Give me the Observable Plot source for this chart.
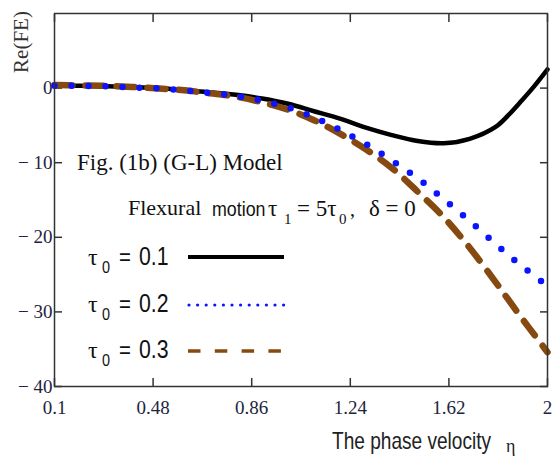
<!DOCTYPE html>
<html><head><meta charset="utf-8">
<script src="https://cdn.jsdelivr.net/npm/d3@7"></script>
<script src="https://cdn.jsdelivr.net/npm/@observablehq/plot@0.6"></script>
<style>
body{margin:0;background:#fff;}
#chart{width:553px;height:459px;}
</style></head><body><div id="chart"></div>
<script>
const eta   = [0.1,0.2,0.3,0.4,0.5,0.6,0.7,0.8,0.9,1.0,1.1,1.2,1.3,1.4,1.5,1.6,1.7,1.8,1.85,1.9,1.95,2.0];
const re01  = [0.3,0.3,0.25,0.15,0.0,-0.3,-0.55,-0.9,-1.4,-2.1,-3.1,-4.1,-5.3,-6.3,-7.1,-7.4,-6.8,-5.2,-3.6,-1.7,0.3,2.5];
const re02  = [0.3,0.3,0.25,0.1,-0.05,-0.3,-0.65,-1.05,-1.7,-2.6,-3.9,-5.6,-7.5,-9.7,-12.1,-14.9,-17.8,-20.9,-22.4,-23.8,-25.2,-26.5];
const re03  = [0.4,0.35,0.3,0.15,-0.05,-0.3,-0.7,-1.15,-1.9,-2.9,-4.3,-6.1,-8.2,-10.7,-13.9,-17.3,-21.4,-26.0,-28.4,-30.8,-33.1,-35.4];
const xTicks = [0.1,0.48,0.86,1.24,1.62,2];
const yTicks = [0,-10,-20,-30,-40];
const tauValues = ["0.1","0.2","0.3"];
const seriesColors = ["#000000","#0a14ff","#86490f"];

const rows = s => eta.map((x,i)=>({x, y:s[i]}));
const serif = "'Liberation Serif','Times New Roman',serif";
const sans = "'Liberation Sans',Arial,sans-serif";
const tickCol = "#1e2440";

const plot = Plot.plot({
  width:553, height:459,
  marginLeft:54, marginRight:6, marginTop:13, marginBottom:73,
  x:{domain:[0.1,2]}, y:{domain:[-40,10]},
  style:{fontFamily:serif, background:"white"},
  marks:[
    Plot.axisX(xTicks,{anchor:"bottom", tickSize:0, tickPadding:14, fontSize:19, label:null, fill:tickCol,
      tickFormat:d=>String(d)}),
    Plot.axisY(yTicks,{anchor:"left", tickSize:0, tickPadding:2, fontSize:19, label:null, fill:tickCol,
      tickFormat:d=> d<0 ? "\u2212 "+Math.abs(d) : String(d)}),
    Plot.axisX(xTicks,{anchor:"bottom", tickSize:8, dy:-8, fill:"none", label:null, stroke:"#333", strokeWidth:1.5}),
    Plot.axisX(xTicks,{anchor:"top", tickSize:8, dy:8, fill:"none", label:null, stroke:"#333", strokeWidth:1.5}),
    Plot.axisY(yTicks,{anchor:"left", tickSize:8, dx:8, fill:"none", label:null, stroke:"#333", strokeWidth:1.5}),
    Plot.axisY(yTicks,{anchor:"right", tickSize:8, dx:-8, fill:"none", label:null, stroke:"#333", strokeWidth:1.5}),
    Plot.line(rows(re01),{x:"x", y:"y", stroke:seriesColors[0], strokeWidth:4.5, curve:"catmull-rom"}),
    Plot.line(rows(re03),{x:"x", y:"y", stroke:seriesColors[2], strokeWidth:6.5, strokeDasharray:"18 13", curve:"catmull-rom"}),
    Plot.line(rows(re02),{x:"x", y:"y", stroke:seriesColors[1], strokeWidth:6.5, strokeDasharray:"0 17", strokeLinecap:"round", curve:"catmull-rom"}),
    Plot.frame({stroke:"#333", strokeWidth:1.5})
  ]
});
document.getElementById("chart").appendChild(plot);

const svg = d3.select(plot);
const g = svg.append("g").attr("fill","#111").attr("text-anchor","start");

const t2 = (x,y,size,txt,fam)=>g.append("text").attr("x",x).attr("y",y).attr("font-family",fam||serif).attr("font-size",size).text(txt);
const tn = (x,y,size,txt,sx)=>g.append("text").attr("transform",`translate(${x},${y}) scale(${sx||0.8},1)`)
  .attr("font-family",sans).attr("font-size",size).text(txt);

// y label
g.append("text").attr("transform","translate(28,42) rotate(-90)").attr("text-anchor","middle")
  .attr("font-family",serif).attr("font-size",21).attr("fill","#333").text("Re(FE)");
// x label
tn(332,449,23,"The phase velocity",0.83).attr("fill","#222");
t2(506,452,18,"\u03b7").attr("fill","#222");

// titles
t2(77,170,23,"Fig. (1b) (G-L) Model");
t2(128,215,22,"Flexural");
tn(212,216,21,"motion",0.85);
t2(268,216,23,"\u03c4");
t2(284,224,15,"1");
t2(297,216,23,"= 5\u03c4");
t2(339,224,15,"0");
t2(350,216,20,",");
t2(369,216,23,"\u03b4 = 0");

// legend
const legY = [265,312,358];
const lineY = [257,305,351];
tauValues.forEach((v,i)=>{
  t2(88,legY[i],24,"\u03c4");
  tn(102,legY[i]+8,17,"0",0.85);
  tn(119,legY[i],24,"=",0.85);
  tn(139,legY[i],25,v,0.85);
});
const lg = svg.append("g");
lg.append("line").attr("x1",188).attr("x2",284).attr("y1",lineY[0]).attr("y2",lineY[0]).attr("stroke",seriesColors[0]).attr("stroke-width",4);
lg.append("line").attr("x1",189).attr("x2",284).attr("y1",lineY[1]).attr("y2",lineY[1]).attr("stroke",seriesColors[1]).attr("stroke-width",3.2).attr("stroke-linecap","round").attr("stroke-dasharray","0 8.6");
lg.append("line").attr("x1",188).attr("x2",284).attr("y1",lineY[2]).attr("y2",lineY[2]).attr("stroke",seriesColors[2]).attr("stroke-width",3.5).attr("stroke-dasharray","12.5 14.3");
</script></body></html>
